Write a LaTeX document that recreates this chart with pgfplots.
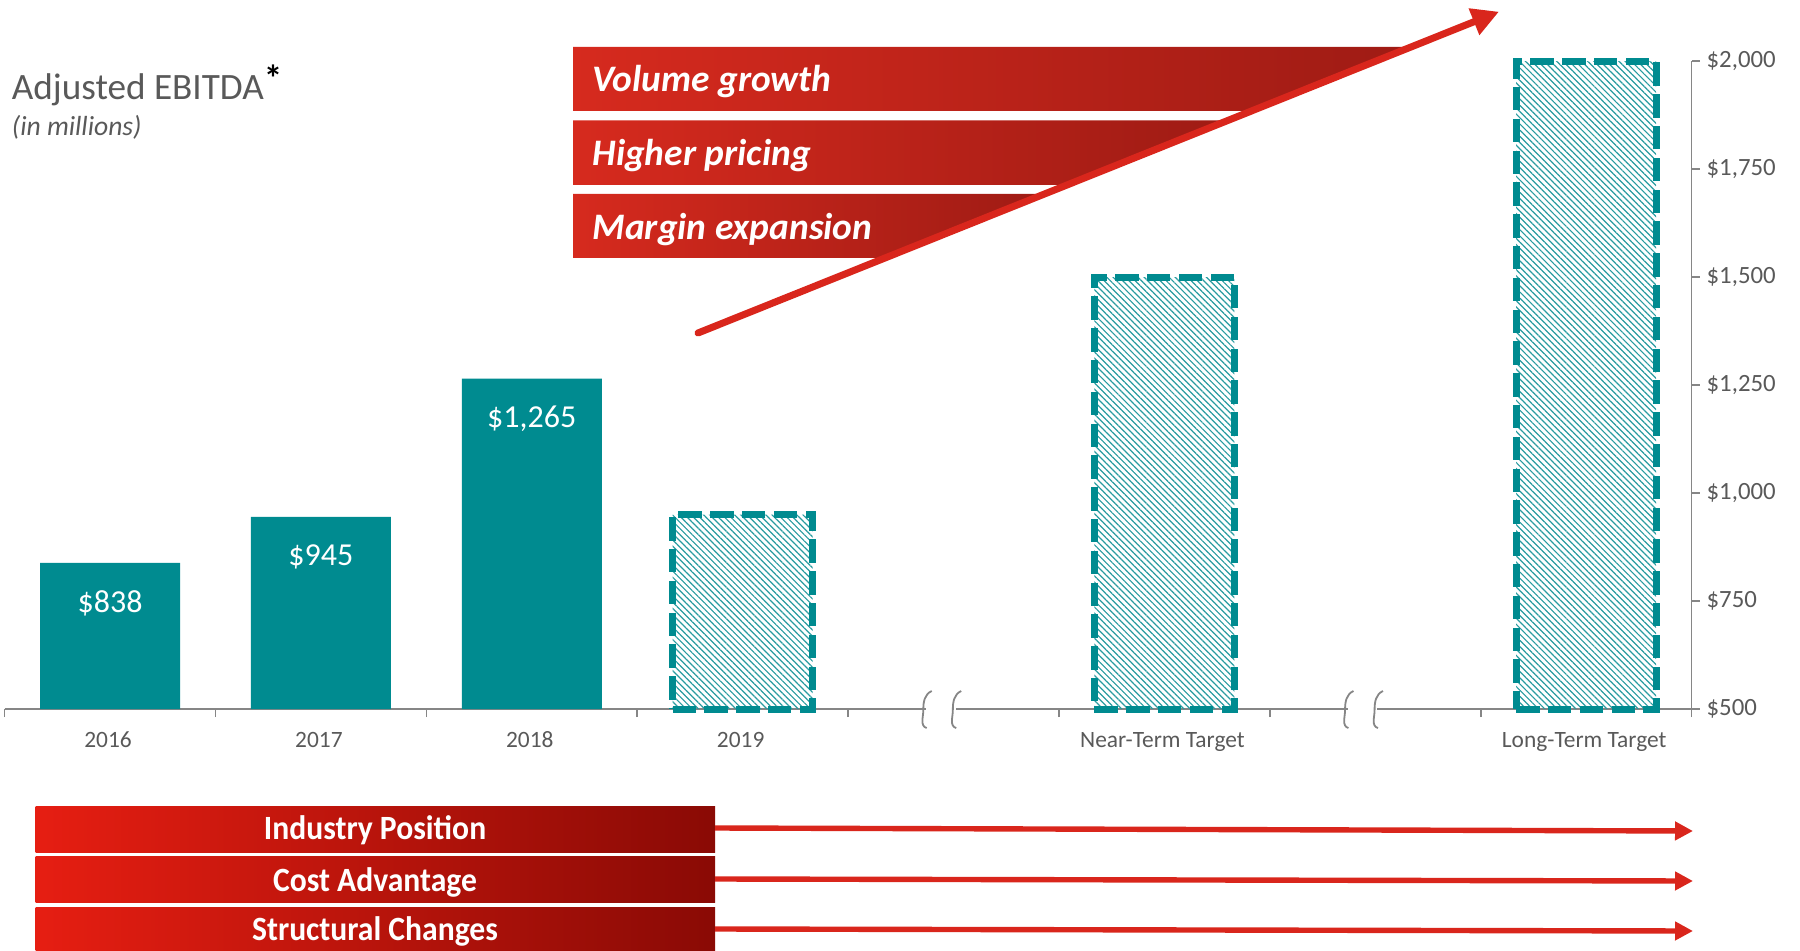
\documentclass[border=0pt]{standalone}
\usepackage{pgfplots}
\pgfplotsset{compat=1.18}
\usepackage{pgfplotstable}
\usepackage{fontspec}
\setmainfont{Carlito}
\usetikzlibrary{patterns.meta,arrows.meta}
\definecolor{teal1}{RGB}{0,139,144}
\definecolor{hatch}{RGB}{40,155,160}
\definecolor{axgray}{RGB}{134,134,134}
\definecolor{txtgray}{RGB}{89,89,89}
\definecolor{redL}{RGB}{214,42,30}
\definecolor{redR}{RGB}{158,27,20}
\definecolor{bredL}{RGB}{230,30,18}
\definecolor{bredR}{RGB}{138,10,5}
\definecolor{arrred}{RGB}{217,38,28}

\pgfplotstableread{
x v
0 838
1 945
2 1265
}\actualdata
\pgfplotstableread{
x v
3 950
5 1500
7 2000
}\targetdata

\newcommand{\squig}[1]{\draw[axgray, line width=0.9pt] ([xshift=2.8pt,yshift=9pt]axis cs:#1,0) to[out=205,in=90] ([xshift=-1.4pt,yshift=-0.5pt]axis cs:#1,0) to[out=-90,in=165] ([xshift=0.3pt,yshift=-9.5pt]axis cs:#1,0);}

\begin{document}
\begin{tikzpicture}
\path[use as bounding box] (0,0) rectangle (900pt,475pt);
\begin{axis}[
  at={(2.3pt,120.5pt)}, anchor=south west,
  scale only axis, width=843.5pt, height=324pt,
  xmin=-0.5, xmax=7.5, ymin=0, ymax=1500,
  axis x line*=bottom, axis y line*=right,
  axis line style={axgray, line width=0.8pt},
  xtick={0,1,2,3,5,7},
  xticklabels={2016,2017,2018,2019,Near-Term Target,Long-Term Target},
  minor xtick={-0.5,0.5,...,7.5},
  major x tick style={draw=none},
  minor x tick style={axgray, line width=0.8pt},
  minor tick length=4pt,
  ytick={0,250,...,1500},
  yticklabels={{\$500},{\$750},{\$1,000},{\$1,250},{\$1,500},{\$1,750},{\$2,000}},
  y tick style={axgray, line width=0.8pt},
  major tick length=4pt,
  tick align=outside,
  xticklabel style={anchor=base, xshift=-1pt, yshift=-15pt, font=\fontsize{11.7}{13}\selectfont, text=txtgray},
  yticklabel style={anchor=west, font=\fontsize{12.4}{14}\selectfont, text=txtgray},
  clip=false,
]
\addplot[ybar, bar width=70pt, bar shift=0pt, fill=teal1, draw=none,
  point meta=explicit,
  nodes near coords={\$\pgfmathprintnumber[1000 sep={,},assume math mode=true]{\pgfplotspointmeta}},
  every node near coord/.append style={anchor=center, yshift=-20pt, text=white, font=\fontsize{16}{18}\selectfont}]
  table[x=x, y expr=\thisrow{v}-500, meta=v] {\actualdata};
\addplot[ybar, bar width=70pt, bar shift=0pt, draw=teal1, line width=3.5pt,
  dash pattern=on 11.7pt off 4.2pt,
  pattern={Lines[angle=-45,distance=2.2pt,line width=0.6pt]}, pattern color=hatch]
  table[x=x, y expr=\thisrow{v}-500] {\targetdata};
\fill[white] ([yshift=-2pt]axis cs:3.87,0) rectangle ([yshift=2pt]axis cs:4.01,0);
\fill[white] ([yshift=-2pt]axis cs:5.87,0) rectangle ([yshift=2pt]axis cs:6.01,0);
\squig{3.87}
\squig{4.01}
\squig{5.87}
\squig{6.01}
\end{axis}
\begin{scope}[x=0.5pt, y=-0.5pt, shift={(0pt,475pt)}]
% top banners
\shade[left color=redL, right color=redR] (573,47) -- (1417,47) -- (1257,111) -- (573,111) -- cycle;
\shade[left color=redL, right color=redR] (573,120.5) -- (1234,120.5) -- (1073,185) -- (573,185) -- cycle;
\shade[left color=redL, right color=redR] (573,194) -- (1050,194) -- (891,258) -- (573,258) -- cycle;
\node[anchor=base west, inner sep=0, text=white, font=\bfseries\itshape\fontsize{18.7}{20}\selectfont] at (592,92) {Volume growth};
\node[anchor=base west, inner sep=0, text=white, font=\bfseries\itshape\fontsize{18.7}{20}\selectfont] at (592,166) {Higher pricing};
\node[anchor=base west, inner sep=0, text=white, font=\bfseries\itshape\fontsize{18.7}{20}\selectfont] at (592,239) {Margin expansion};
\draw[line width=3.5pt, arrred, line cap=round, -{Triangle[length=13.5pt,width=13.5pt]}] (698,333) -- (1499,11.7);
% bottom banners
\shade[left color=bredL, right color=bredR] (35.6,806) rectangle (715,852);
\shade[left color=bredL, right color=bredR] (35.6,856) rectangle (715,902);
\shade[left color=bredL, right color=bredR] (35.6,907) rectangle (715,950);
\node[anchor=base, inner sep=0, text=white, font=\bfseries\fontsize{17}{19}\selectfont] at (375,839) {\scalebox{0.93}[1]{Industry Position}};
\node[anchor=base, inner sep=0, text=white, font=\bfseries\fontsize{17}{19}\selectfont] at (375,891) {\scalebox{0.93}[1]{Cost Advantage}};
\node[anchor=base, inner sep=0, text=white, font=\bfseries\fontsize{17}{19}\selectfont] at (375,940) {\scalebox{0.93}[1]{Structural Changes}};
\draw[line width=2.7pt, arrred, -{Triangle[length=9pt,width=9pt]}] (715,828) -- (1693,831);
\draw[line width=2.7pt, arrred, -{Triangle[length=9pt,width=9pt]}] (715,879) -- (1693,881);
\draw[line width=2.7pt, arrred, -{Triangle[length=9pt,width=9pt]}] (715,929) -- (1693,931);
% title
\node[anchor=base west, inner sep=0, text=txtgray, font=\fontsize{18.6}{21}\selectfont] at (11.5,100) {Adjusted EBITDA\textcolor{black}{\raisebox{4pt}{\bfseries *}}};
\node[anchor=base west, inner sep=0, text=txtgray, font=\itshape\fontsize{13.8}{16}\selectfont] at (11.5,135.5) {(in millions)};
\end{scope}
\end{tikzpicture}
\end{document}
